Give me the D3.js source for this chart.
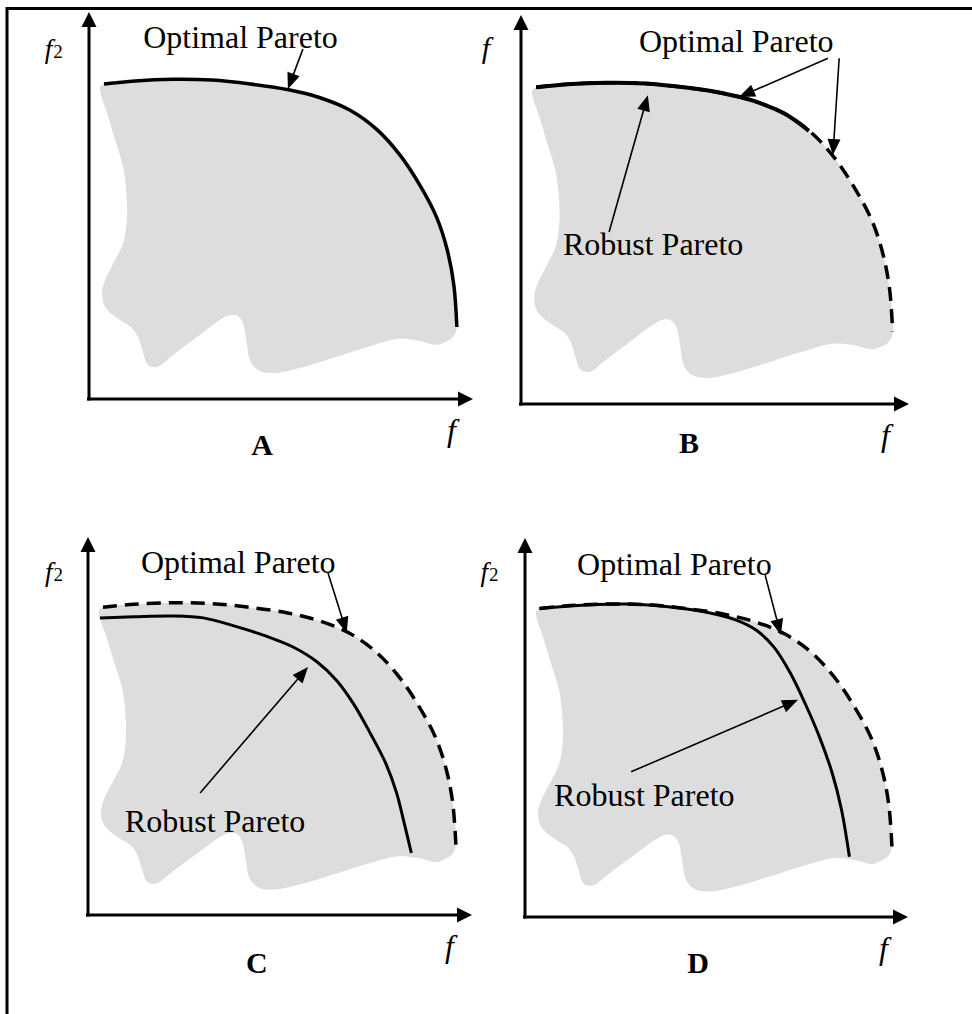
<!DOCTYPE html>
<html>
<head>
<meta charset="utf-8">
<title>Pareto fronts</title>
<script src="https://cdn.jsdelivr.net/npm/d3@7"></script>
<style>
  body { margin: 0; background: #fff; }
  svg text { font-family: "Liberation Serif", "Times New Roman", serif; fill: #000; }
</style>
</head>
<body>
<div id="vis"></div>
<script>
// ---- data (objective space, 0..100 on both axes, 100 = arrow tip) ----
var panels = ["A", "B", "C", "D"];
var captions = ["Optimal Pareto", "Robust Pareto"];

// true (optimal) Pareto front, upper-right boundary of the feasible region
var paretoOptimal = [[3.9,81.4],[12,82.2],[22,82.6],[32,82.4],[42,81.4],[52,79.9],[60,77.9],
  [68,74.6],[75,69.6],[81,63.0],[86,55.5],[90.5,47.0],[93.3,38.5],[95,29.5],[95.8,18.6]];

// rest of the feasible region outline (right end -> bottom -> left side)
var regionEdge = [[94.8,16.0],[92.2,14.5],[90.6,14.0],[85.4,15.2],[80.2,15.5],[72.4,13.4],[63.5,10.6],
  [54.9,8.0],[47.9,6.7],[44.0,7.5],[41.9,10.1],[41.1,14.5],[40.1,19.6],[38.8,21.4],[36.7,21.7],[33.3,19.9],
  [28.1,16.0],[21.9,11.4],[17.7,8.3],[15.4,8.8],[14.1,11.9],[12.8,16.0],[11.2,18.3],[7.3,20.9],[4.2,23.8],
  [3.4,27.4],[4.2,30.7],[6.8,35.9],[8.9,40.3],[9.9,47.0],[9.6,54.8],[8.9,59.9],[6.8,66.9],[4.7,73.9],
  [3.1,78.6],[2.9,80.6]];

// robust fronts
var robustB = [[3.9,81.4],[12,82.2],[22,82.6],[32,82.4],[42,81.4],[52,79.9],[60,77.9],[68,74.6],[74.2,70.2]];
var robustC = [[3.1,78.6],[12,78.9],[22,79.1],[30,78.6],[38,76.5],[46.6,73.7],[53.4,70.9],[59.6,67.0],
  [64.8,62.0],[69.2,55.8],[73.5,48.1],[77.6,40.0],[80.3,32.5],[82.3,24.5],[84.2,16.4]];
var robustD = [[3.7,81.4],[15.9,82.3],[26.4,82.6],[36.8,81.9],[46.4,80.6],[55,78.4],[60.5,75.6],[65,71.2],
  [69.2,64.5],[73.2,56.2],[77,47.2],[80.2,38.0],[82.6,28.5],[84.7,15.9]];

// ---- layout ----
var W = 972, H = 1014;
var frame = {
  A: {x: [89, 473], y: [399, 12]},
  B: {x: [521, 909], y: [404, 15]},
  C: {x: [88, 472], y: [915, 537]},
  D: {x: [525, 908], y: [917, 538]}
};
// annotation anchors in data units
var notes = {
  A: {yl: [-11.5, 88.2], xl: [93.2, -10.9], tag: [45.1, -14.5], sub: true,
      texts: [[0, 14.1, 90.7]],
      arrows: [[[55.7, 90.4], [51.8, 80.1]]]},
  B: {yl: [-10.1, 88.9], xl: [92.8, -10.8], tag: [43.3, -12.6], sub: false,
      texts: [[0, 30.4, 90.5], [1, 10.8, 38.3]],
      arrows: [[[79.1, 88.9], [56.2, 78.9]], [[82.0, 88.9], [80.4, 64.0]], [[22.7, 44.2], [32.7, 79.4]]]},
  C: {yl: [-11.2, 88.4], xl: [93.0, -11.1], tag: [44.0, -15.3], sub: true,
      texts: [[0, 13.8, 90.5], [1, 9.6, 22.0]],
      arrows: [[[62.5, 90.5], [67.4, 74.6]], [[29.2, 32.3], [57.3, 65.6]]]},
  D: {yl: [-11.6, 88.7], xl: [92.4, -11.1], tag: [45.2, -14.8], sub: true,
      texts: [[0, 13.6, 90.2], [1, 7.6, 29.3]],
      arrows: [[[62.7, 90.2], [66.8, 74.4]], [[27.7, 38.3], [71.3, 57.3]]]}
};

var svg = d3.select("#vis").append("svg").attr("width", W).attr("height", H);

// outer frame (only left and top edges visible)
svg.append("path").attr("d", "M7,1014 V8.5 H972")
  .attr("fill", "none").attr("stroke", "#000").attr("stroke-width", 3);

function arrow(g, p0, p1, len, half, sw) {
  var dx = p1[0] - p0[0], dy = p1[1] - p0[1], d = Math.sqrt(dx * dx + dy * dy);
  var ux = dx / d, uy = dy / d;
  var bx = p1[0] - ux * len, by = p1[1] - uy * len;
  g.append("line").attr("x1", p0[0]).attr("y1", p0[1]).attr("x2", bx + ux).attr("y2", by + uy)
    .attr("stroke", "#000").attr("stroke-width", sw);
  g.append("path")
    .attr("d", "M" + p1[0] + "," + p1[1] + "L" + (bx - uy * half) + "," + (by + ux * half) +
               "L" + (bx + uy * half) + "," + (by - ux * half) + "Z")
    .attr("fill", "#000");
}

panels.forEach(function (key) {
  var f = frame[key], n = notes[key];
  var x = d3.scaleLinear().domain([0, 100]).range(f.x);
  var y = d3.scaleLinear().domain([0, 100]).range(f.y);
  var g = svg.append("g");
  var line = d3.line().x(function (d) { return x(d[0]); }).y(function (d) { return y(d[1]); })
    .curve(d3.curveCatmullRom.alpha(0.5));
  var area = d3.line().x(function (d) { return x(d[0]); }).y(function (d) { return y(d[1]); })
    .curve(d3.curveCatmullRomClosed.alpha(0.5));

  // feasible region
  g.append("path").attr("d", area(paretoOptimal.concat(regionEdge))).attr("fill", "#dddddd");

  // fronts
  if (key === "A") {
    g.append("path").attr("d", line(paretoOptimal)).attr("fill", "none")
      .attr("stroke", "#000").attr("stroke-width", 3.5);
  } else {
    var robust = key === "B" ? robustB : key === "C" ? robustC : robustD;
    g.append("path").attr("d", line(paretoOptimal)).attr("fill", "none")
      .attr("stroke", "#000").attr("stroke-width", 3.5).attr("stroke-dasharray", "14,8");
    g.append("path").attr("d", line(robust)).attr("fill", "none")
      .attr("stroke", "#000").attr("stroke-width", key === "B" ? 4 : 3);
  }

  // axes
  arrow(g, [x(0) - 2, y(0)], [x(100), y(0)], 15, 7.5, 3);
  arrow(g, [x(0), y(0) + 1.5], [x(0), y(100)], 15, 7.5, 3);

  // axis names
  var yl = g.append("text").attr("x", x(n.yl[0])).attr("y", y(n.yl[1]))
    .attr("font-style", "italic").attr("font-size", n.sub ? 27 : 30).text("f");
  if (n.sub) yl.append("tspan").attr("font-style", "normal").attr("font-size", 19).attr("dx", 1).text("2");
  g.append("text").attr("x", x(n.xl[0])).attr("y", y(n.xl[1]))
    .attr("font-style", "italic").attr("font-size", 32).text("f");

  // panel tag
  g.append("text").attr("x", x(n.tag[0])).attr("y", y(n.tag[1]))
    .attr("text-anchor", "middle").attr("font-weight", "bold").attr("font-size", 30).text(key);

  // captions and pointer arrows
  n.texts.forEach(function (t) {
    g.append("text").attr("x", x(t[1])).attr("y", y(t[2])).attr("font-size", 32).text(captions[t[0]]);
  });
  n.arrows.forEach(function (a) {
    arrow(g, [x(a[0][0]), y(a[0][1])], [x(a[1][0]), y(a[1][1])], 16, 6.5, 1.6);
  });
});
</script>
</body>
</html>
